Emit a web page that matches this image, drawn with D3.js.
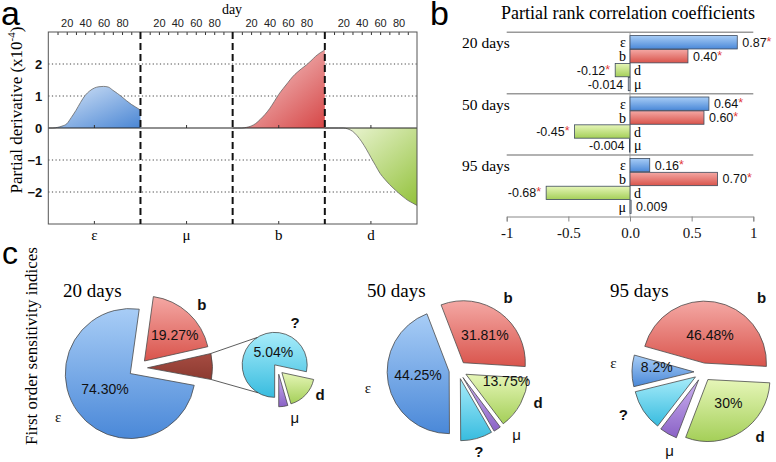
<!DOCTYPE html>
<html><head><meta charset="utf-8">
<script src="https://cdn.jsdelivr.net/npm/d3@7"></script>
<style>body{margin:0;background:#fff}svg{display:block}</style>
</head><body>
<svg id="c" width="776" height="462"></svg>
<script>
// ---------------- DATA ----------------
// Panel a: partial derivatives (x10^-4) vs day
const days      = [0,5,10,15,20,25,30,35,40,45,50,55,60,65,70,75,80,85,90,95,100];
const derivEps  = [0,0,0.02,0.06,0.13,0.33,0.55,0.80,1.02,1.16,1.25,1.29,1.30,1.28,1.18,1.08,0.97,0.85,0.74,0.65,0.56];
const derivMu   = [0,0,0,0,0,0,0,0,0,0,0,0,0,0,0,0,0,0,0,0,0];
const derivB    = [0,0,0,0.02,0.06,0.14,0.27,0.42,0.60,0.82,1.05,1.24,1.42,1.60,1.74,1.86,1.97,2.10,2.24,2.35,2.44];
const derivD    = [0,0,0,0,0,-0.03,-0.10,-0.24,-0.43,-0.66,-0.92,-1.17,-1.42,-1.60,-1.76,-1.90,-2.03,-2.15,-2.26,-2.34,-2.42];
const derivParams = ["ε","μ","b","d"];
const dayTickLabels = [20,40,60,80];
const dayMinorTicks = [10,20,30,40,50,60,70,80,90];
const derivYTicks = [-2,-1,0,1,2];

// Panel b: partial rank correlation coefficients
const prccGroups = ["20 days","50 days","95 days"];
const prccParams = ["ε","b","d","μ"];
const prcc20 = [0.87, 0.47, -0.12, -0.014];
const prcc50 = [0.64, 0.60, -0.45, -0.004];
const prcc95 = [0.16, 0.71, -0.68, 0.009];
const prccText20 = ["0.87","0.40","-0.12","-0.014"];
const prccText50 = ["0.64","0.60","-0.45","-0.004"];
const prccText95 = ["0.16","0.70","-0.68","0.009"];
const prccSignif = [true,true,true,false];
const prccTicks = [-1,-0.5,0,0.5,1];
const prccTickLabels = ["-1","-0.5","0.0","0.5","1"];

// Panel c: first order sensitivity indices (%)
const pie20Params = ["b","other","ε"];
const pie20Values = [19.27, 6.43, 74.30];
const pie20Text   = ["19.27%", null, "74.30%"];
const pie20SubParams = ["d","μ","?"];
const pie20SubValues = [1.10, 0.29, 5.04];
const pie20SubText   = [null, null, "5.04%"];
const pieParams = ["b","d","μ","?","ε"];
const pie50Values = [31.81, 13.75, 1.90, 8.29, 44.25];
const pie50Text   = ["31.81%","13.75%",null,null,"44.25%"];
const pie95Values = [46.48, 30, 4.60, 10.72, 8.2];
const pie95Text   = ["46.48%","30%",null,null,"8.2%"];

// ---------------- STYLE / LAYOUT ----------------
const SERIF = "'Liberation Serif','Times New Roman',serif";
const SANS = "'Liberation Sans',Arial,sans-serif";
const svg = d3.select("#c");
const defs = svg.append("defs");
function grad(id, c1, c2, x2, y2){
  const g = defs.append("linearGradient").attr("id", id)
    .attr("x1",0).attr("y1",0).attr("x2",x2).attr("y2",y2);
  g.append("stop").attr("offset","0%").attr("stop-color",c1);
  g.append("stop").attr("offset","100%").attr("stop-color",c2);
}
// panel a fills (diagonal)
grad("aBlue","#dce9f9","#4a86d4",1,1);
grad("aRed","#fae2e2","#d64646",1,1);
grad("aGreen","#f6fbe6","#93c23c",1,1);
// bars/pies (vertical)
grad("vBlue","#a8cdf6","#4a88d8",0,1);
grad("vRed","#f4a8a4","#d9544c",0,1);
grad("vGreen","#e6f6b8","#a4cf58",0,1);
grad("vCyan","#a8ecfa","#38bcdf",0,1);
grad("vPurple","#ccb2f0","#8a62c6",0,1);
grad("vDark","#a64c42","#8c3a30",0,1);
const fillOf = {"ε":"url(#vBlue)","b":"url(#vRed)","d":"url(#vGreen)","?":"url(#vCyan)","μ":"url(#vPurple)","other":"url(#vDark)"};

// ---------------- PANEL A ----------------
const A = {left:48.3, right:417, top:32, bottom:224};
const gA = svg.append("g");
const yA = d3.scaleLinear().domain([-3,3]).range([A.bottom, A.top]);
const subX = d3.scaleBand().domain(derivParams).range([A.left, A.right]);
const derivSeries = [derivEps, derivMu, derivB, derivD];
const derivFill = ["url(#aBlue)", "none", "url(#aRed)", "url(#aGreen)"];

// grid (dotted)
gA.selectAll("line.grid").data(derivYTicks.filter(v=>v!==0)).join("line")
  .attr("x1",A.left).attr("x2",A.right).attr("y1",d=>yA(d)).attr("y2",d=>yA(d))
  .attr("stroke","#444").attr("stroke-width",1).attr("stroke-dasharray","1.2,2.4");

derivParams.forEach((p,i)=>{
  const x = d3.scaleLinear().domain([0,100]).range([subX(p), subX(p)+subX.bandwidth()]);
  const pts = days.map((d,j)=>({day:d, v:derivSeries[i][j]}));
  if (derivFill[i] !== "none") {
    gA.append("path").datum(pts)
      .attr("d", d3.area().x(d=>x(d.day)).y0(yA(0)).y1(d=>yA(d.v)).curve(d3.curveMonotoneX))
      .attr("fill", derivFill[i]);
    gA.append("path").datum(pts)
      .attr("d", d3.line().x(d=>x(d.day)).y(d=>yA(d.v)).curve(d3.curveMonotoneX))
      .attr("fill","none").attr("stroke","#666").attr("stroke-width",0.8);
  }
  // top ticks (inside)
  const tk = gA.append("g").attr("transform",`translate(0,${A.top})`)
    .call(d3.axisBottom(x).tickValues(dayMinorTicks).tickSize(3).tickFormat(""));
  tk.select(".domain").remove();
  tk.selectAll("line").attr("stroke","#333");
  const tl = gA.append("g").attr("transform",`translate(0,${A.top})`)
    .call(d3.axisTop(x).tickValues(dayTickLabels).tickSize(0).tickPadding(5));
  tl.select(".domain").remove();
  tl.selectAll("text").attr("font-family",SANS).attr("font-size",11).attr("fill","#222");
  // bottom centre tick
  gA.append("line").attr("x1",x(50)).attr("x2",x(50)).attr("y1",A.bottom).attr("y2",A.bottom-3).attr("stroke","#333");
  gA.append("line").attr("x1",x(50)).attr("x2",x(50)).attr("y1",yA(0)).attr("y2",yA(0)-3).attr("stroke","#333");
  // category label
  gA.append("text").attr("x",x(50)).attr("y",240).attr("text-anchor","middle")
    .attr("font-family",SERIF).attr("font-size",15).text(p);
});
// zero line
gA.append("line").attr("x1",A.left).attr("x2",A.right).attr("y1",yA(0)).attr("y2",yA(0))
  .attr("stroke","#222").attr("stroke-width",1.1);
// frame
gA.append("rect").attr("x",A.left).attr("y",A.top).attr("width",A.right-A.left).attr("height",A.bottom-A.top)
  .attr("fill","none").attr("stroke","#555").attr("stroke-width",1);
// dashed dividers
gA.selectAll("line.div").data(derivParams.slice(1)).join("line")
  .attr("x1",d=>subX(d)).attr("x2",d=>subX(d)).attr("y1",A.top).attr("y2",A.bottom)
  .attr("stroke","#111").attr("stroke-width",2).attr("stroke-dasharray","7,4");
// y axis labels
const ya = gA.append("g").attr("transform",`translate(${A.left},0)`)
  .call(d3.axisLeft(yA).tickValues(derivYTicks).tickSize(0).tickPadding(6).tickFormat(d3.format("d")));
ya.select(".domain").remove();
ya.selectAll("text").attr("font-family",SANS).attr("font-size",13).attr("font-weight","bold").attr("fill","#111");
// titles
gA.append("text").attr("x",232).attr("y",14).attr("text-anchor","middle")
  .attr("font-family",SERIF).attr("font-size",14).text("day");
const yt = gA.append("text").attr("transform","translate(22,110) rotate(-90)").attr("text-anchor","middle")
  .attr("font-family",SERIF).attr("font-size",17);
yt.append("tspan").text("Partial derivative (x10");
yt.append("tspan").attr("font-size",11).attr("dy",-7).text("-4");
yt.append("tspan").attr("dy",7).text(")");
svg.append("text").attr("x",1).attr("y",25).attr("font-family",SANS).attr("font-size",34).text("a");

// ---------------- PANEL B ----------------
const gB = svg.append("g");
const xB = d3.scaleLinear().domain([-1,1]).range([506.7, 753.3]);
const groupY = d3.scaleBand().domain(prccGroups).range([32.3, 216.5]);
const innerY = d3.scaleBand().domain(prccParams).range([3.3, groupY.bandwidth()-3]).paddingInner(0.04);
const prccVals = [prcc20, prcc50, prcc95];
const prccTexts = [prccText20, prccText50, prccText95];
const barFill = {"ε":"url(#vBlue)","b":"url(#vRed)","d":"url(#vGreen)","μ":"#d8d8d8"};

gB.append("text").attr("x",628).attr("y",19).attr("text-anchor","middle")
  .attr("font-family",SERIF).attr("font-size",18).text("Partial rank correlation coefficients");
// zero vertical line
gB.append("line").attr("x1",xB(0)).attr("x2",xB(0)).attr("y1",32.3).attr("y2",216.5)
  .attr("stroke","#aaa").attr("stroke-width",1);
prccGroups.forEach((g,gi)=>{
  const y0 = groupY(g);
  gB.append("line").attr("x1",xB(-1)).attr("x2",xB(1)).attr("y1",y0).attr("y2",y0)
    .attr("stroke","#999").attr("stroke-width",1.5);
  gB.append("text").attr("x",462).attr("y",y0+16).attr("font-family",SERIF).attr("font-size",15.5).text(g);
  prccParams.forEach((p,pi)=>{
    const v = prccVals[gi][pi];
    const by = y0 + innerY(p), bh = innerY.bandwidth(), cy = by + bh/2;
    gB.append("rect").attr("x",Math.min(xB(0),xB(v))).attr("y",by)
      .attr("width",Math.abs(xB(v)-xB(0))).attr("height",bh)
      .attr("fill",barFill[p]).attr("stroke","#3d4a5c").attr("stroke-width",0.8);
    // category label
    gB.append("text").attr("x", v>=0 ? xB(0)-4 : xB(0)+4).attr("y",cy+5)
      .attr("text-anchor", v>=0 ? "end" : "start")
      .attr("font-family",SERIF).attr("font-size",14).text(p);
    // value label
    const t = gB.append("text").attr("x", v>=0 ? xB(v)+5 : xB(v)-5).attr("y",cy+4.5)
      .attr("text-anchor", v>=0 ? "start" : "end")
      .attr("font-family",SANS).attr("font-size",12.5).attr("fill","#111");
    t.append("tspan").text(prccTexts[gi][pi]);
    if (prccSignif[pi]) t.append("tspan").attr("fill","#e23a3a").attr("dy",-1).text("*");
  });
});
const xa = gB.append("g").attr("transform","translate(0,216.5)")
  .call(d3.axisBottom(xB).tickValues(prccTicks).tickSize(5).tickPadding(6).tickFormat((d,i)=>prccTickLabels[i]));
xa.select(".domain").attr("stroke","#888");
xa.selectAll("line").attr("stroke","#888");
xa.selectAll("text").attr("font-family",SERIF).attr("font-size",15).attr("fill","#111");
svg.append("text").attr("x",430).attr("y",25).attr("font-family",SANS).attr("font-size",34).text("b");

// ---------------- PANEL C ----------------
svg.append("text").attr("x",2).attr("y",264).attr("font-family",SANS).attr("font-size",32).text("c");
svg.append("text").attr("transform","translate(37,346) rotate(-90)").attr("text-anchor","middle")
  .attr("font-family",SERIF).attr("font-size",17).text("First order sensitivity indices");

const rad = Math.PI/180;
function polar(cx, cy, ang, r){ return [cx + r*Math.sin(ang*rad), cy - r*Math.cos(ang*rad)]; }

function drawPie(cfg, params, values, texts){
  const g = svg.append("g");
  const arcs = d3.pie().sort(null).value(d=>d.v)
    .startAngle(cfg.start*rad).endAngle(cfg.start*rad + 2*Math.PI)(params.map((p,i)=>({p, v:values[i], t:texts[i]})));
  const arc = d3.arc().innerRadius(0).outerRadius(cfg.R);
  arcs.forEach(a=>{
    const mid = (a.startAngle + a.endAngle)/2;
    const dx = cfg.ex*Math.sin(mid), dy = -cfg.ex*Math.cos(mid);
    a.cx = cfg.cx+dx; a.cy = cfg.cy+dy;
    g.append("path").attr("d",arc(a)).attr("transform",`translate(${a.cx},${a.cy})`)
      .attr("fill",fillOf[a.data.p]).attr("stroke","#4a4a4a").attr("stroke-width",0.8);
  });
  arcs.forEach(a=>{
    const p = a.data.p;
    if (a.data.t) {
      const [tx,ty] = polar(cfg.cx, cfg.cy, cfg.pct[p][0], cfg.pct[p][1]*cfg.R);
      g.append("text").attr("x",tx).attr("y",ty+5).attr("text-anchor","middle")
        .attr("font-family",SANS).attr("font-size",14).attr("fill","#111").text(a.data.t);
    }
    if (cfg.names[p]) {
      const [tx,ty] = polar(cfg.cx, cfg.cy, cfg.names[p][0], cfg.names[p][1]*cfg.R);
      const isEps = p==="ε", isMu = p==="μ";
      g.append("text").attr("x",tx).attr("y",ty+5).attr("text-anchor","middle")
        .attr("font-family", isEps ? SERIF : SANS)
        .attr("font-size", 15)
        .attr("font-weight", (isEps||isMu) ? "normal" : "bold")
        .attr("fill","#111").text(p);
    }
  });
  return arcs;
}

const pie20Cfg = {cx:138, cy:368, R:65, start:7.9, ex:9.5,
  names:{"b":[45.3,1.38],"ε":[238.6,1.44]},
  pct:{"b":[48,0.76],"ε":[238,0.6]}};
const pie20SubCfg = {cx:278, cy:369, R:32.5, start:102.2, ex:5.3,
  names:{"?":[20.4,1.5],"d":[121.8,1.52],"μ":[161,1.6]},
  pct:{"?":[345,0.55]}};
const pie50Cfg = {cx:458, cy:370, R:62, start:-21, ex:9,
  names:{"b":[35,1.41],"d":[112.5,1.4],"μ":[137.9,1.41],"?":[165.8,1.37],"ε":[258.7,1.48]},
  pct:{"b":[37.6,0.71],"ε":[262.8,0.65],"d":[102.7,0.8]}};
const pie95Cfg = {cx:703, cy:372, R:62, start:-74.3, ex:9,
  names:{"b":[38.5,1.52],"d":[138.6,1.39],"μ":[203,1.38],"?":[241.6,1.46],"ε":[275.5,1.45]},
  pct:{"b":[10.7,0.61],"d":[141,0.65],"ε":[276.5,0.75]}};

const a20 = drawPie(pie20Cfg, pie20Params, pie20Values, pie20Text);
const a20s = drawPie(pie20SubCfg, pie20SubParams, pie20SubValues, pie20SubText);
// connector lines from "other" slice to the secondary pie
const other = a20.find(a=>a.data.p==="other");
const cyan = a20s.find(a=>a.data.p==="?");
const o1 = [other.cx + pie20Cfg.R*Math.sin(other.startAngle), other.cy - pie20Cfg.R*Math.cos(other.startAngle)];
const o2 = [other.cx + pie20Cfg.R*Math.sin(other.endAngle), other.cy - pie20Cfg.R*Math.cos(other.endAngle)];
const c1 = polar(cyan.cx, cyan.cy, 327.5, pie20SubCfg.R);
const c2 = polar(cyan.cx, cyan.cy, 211, pie20SubCfg.R);
svg.append("line").attr("x1",o1[0]).attr("y1",o1[1]).attr("x2",c1[0]).attr("y2",c1[1]).attr("stroke","#333").attr("stroke-width",0.8);
svg.append("line").attr("x1",o2[0]).attr("y1",o2[1]).attr("x2",c2[0]).attr("y2",c2[1]).attr("stroke","#333").attr("stroke-width",0.8);

drawPie(pie50Cfg, pieParams, pie50Values, pie50Text);
drawPie(pie95Cfg, pieParams, pie95Values, pie95Text);

[["20 days",63],["50 days",367],["95 days",610]].forEach(([t,x])=>{
  svg.append("text").attr("x",x).attr("y",297).attr("font-family",SERIF).attr("font-size",19).text(t);
});
</script>
</body></html>
